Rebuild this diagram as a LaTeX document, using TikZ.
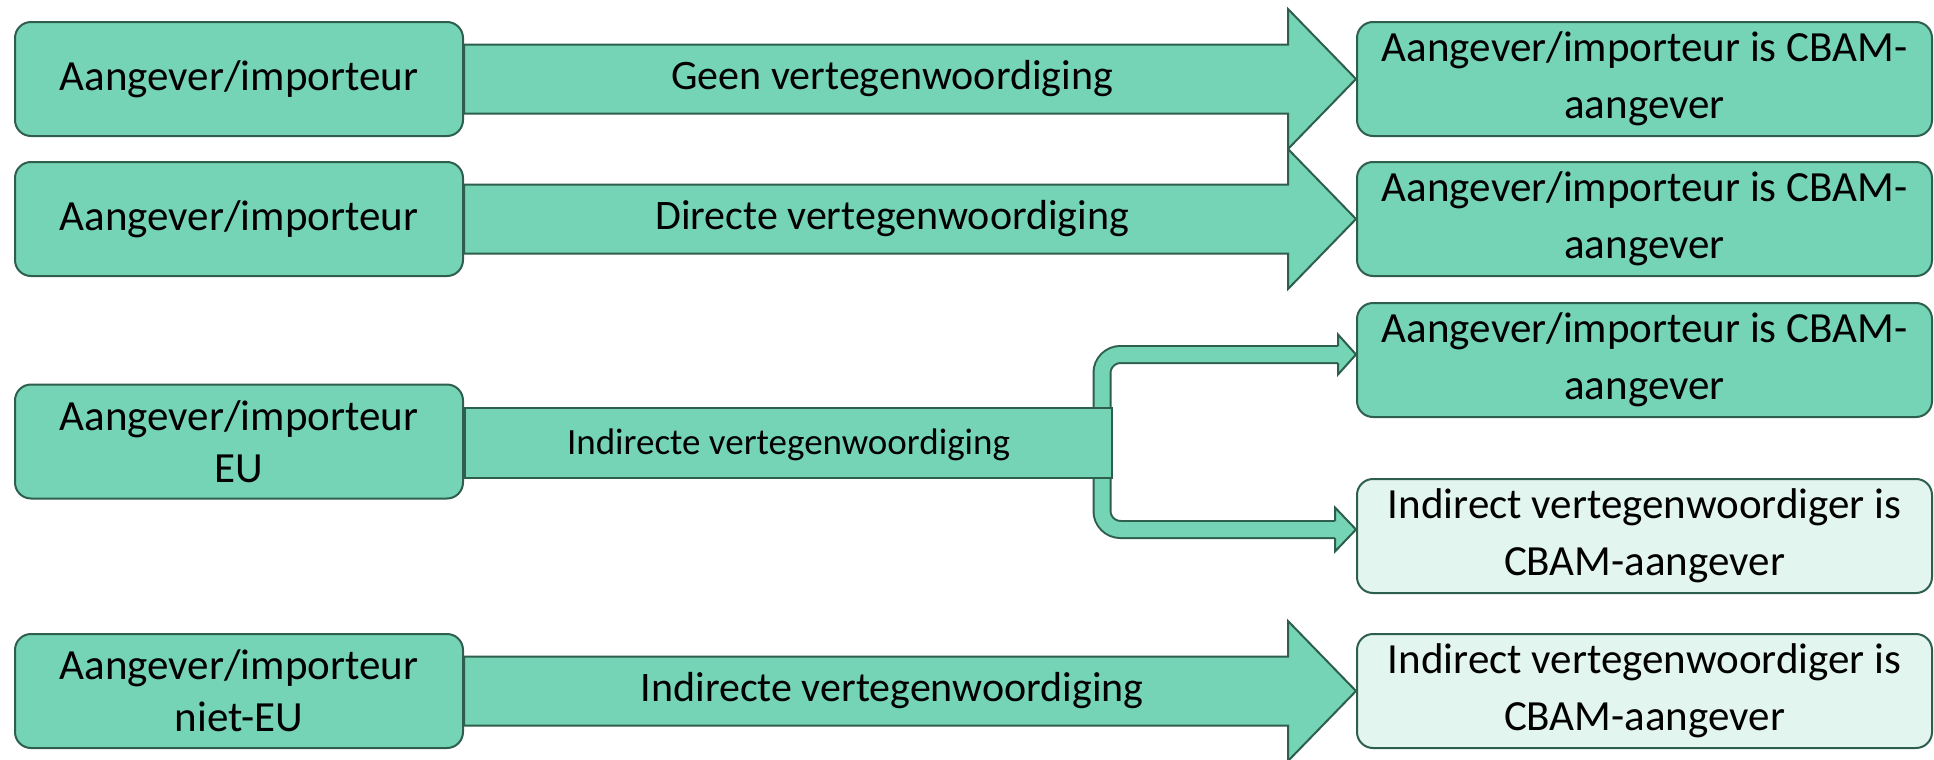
\documentclass[tikz,border=0pt]{standalone}
\usepackage{fontspec}
\setmainfont{Carlito}
\usepackage{xcolor}
\usetikzlibrary{calc,backgrounds}
\definecolor{boxgreen}{RGB}{117,211,182}
\definecolor{boxlight}{RGB}{227,245,239}
\definecolor{boxline}{RGB}{46,94,76}
\tikzset{
    green-box/.style = {draw=boxline, fill=boxgreen, line width=1pt, rectangle, rounded corners=8pt, align=center, font=\fontsize{21.5}{26}\selectfont},
    light-box/.style = {green-box, fill=boxlight},
    result-box/.style = {green-box, minimum width=287.5pt, minimum height=57pt, font=\fontsize{21.5}{28.5}\selectfont},
    arrow-body/.style = {draw=boxline, fill=boxgreen, line width=1pt, line join=miter},
    arrow-band/.style = {draw=boxline, line width=1pt, double=boxgreen, double distance=7.5pt, rounded corners=9.25pt},
    arrow-label/.style = {font=\fontsize{21}{25}\selectfont},
}
\newcommand{\fatarrow}[2]{%
    \draw[arrow-body] ($(#1.east)+(0,-34.5)$) -- ($(#2.west)+(-68,-34.5)$) -- ($(#2.west)+(-68,-70)$) -- (#2.west)
        -- ($(#2.west)+(-68,70)$) -- ($(#2.west)+(-68,34.5)$) -- ($(#1.east)+(0,34.5)$) -- cycle;}

\begin{document}
\begin{tikzpicture}[x=0.5pt, y=-0.5pt]
\useasboundingbox (0,0) rectangle (1934,760);
% left column
\node [green-box, minimum width=224pt, minimum height=57pt] (src1) at (239,79) {Aangever/importeur};
\node [green-box, minimum width=224pt, minimum height=57pt] (src2) at (239,219) {Aangever/importeur};
\node [green-box, minimum width=224pt, minimum height=57pt] (src3) at (239,441.5) {Aangever/importeur\\EU};
\node [green-box, minimum width=224pt, minimum height=57pt] (src4) at (239,691) {Aangever/importeur\\niet-EU};
% right column
\node [result-box] (res1) at (1644.5,79) {Aangever/importeur is CBAM-\\aangever};
\node [result-box] (res2) at (1644.5,219) {Aangever/importeur is CBAM-\\aangever};
\node [result-box] (res3a) at (1644.5,360) {Aangever/importeur is CBAM-\\aangever};
\node [result-box, fill=boxlight] (res3b) at (1644.5,536) {Indirect vertegenwoordiger is\\CBAM-aangever};
\node [result-box, fill=boxlight] (res4) at (1644.5,691) {Indirect vertegenwoordiger is\\CBAM-aangever};
% split block
\node [arrow-body, rectangle, minimum width=323.5pt, minimum height=35pt, anchor=west, text depth=1pt, font=\fontsize{18.5}{22}\selectfont] (split) at ($(src3.east)+(0,1.5)$) {Indirecte vertegenwoordiging};
\coordinate (bandx) at ($(split.east)+(-11,0)$);
\coordinate (tipA) at ($(res3a.west)+(0,-5.5)$);
\coordinate (tipB) at ($(res3b.west)+(0,-6.5)$);

\begin{scope}[on background layer]
\fatarrow{src1}{res1}
\fatarrow{src2}{res2}
\fatarrow{src4}{res4}
\draw[arrow-band] ($(tipA)+(-18,0)$) -| (bandx |- tipB) -- ($(tipB)+(-21,0)$);
\draw[arrow-body] ($(tipA)+(-18,8.5)$) -- ($(tipA)+(-18,20)$) -- (tipA) -- ($(tipA)+(-18,-20)$) -- ($(tipA)+(-18,-8.5)$);
\draw[arrow-body] ($(tipB)+(-21,8.5)$) -- ($(tipB)+(-21,22)$) -- (tipB) -- ($(tipB)+(-21,-22)$) -- ($(tipB)+(-21,-8.5)$);
\end{scope}

% arrow texts
\node [arrow-label] (lbl1) at ($(src1.east)!0.48!(res1.west)$) {Geen vertegenwoordiging};
\node [arrow-label] (lbl2) at ($(src2.east)!0.48!(res2.west)$) {Directe vertegenwoordiging};
\node [arrow-label] (lbl4) at ($(src4.east)!0.48!(res4.west)$) {Indirecte vertegenwoordiging};
\end{tikzpicture}
\end{document}
